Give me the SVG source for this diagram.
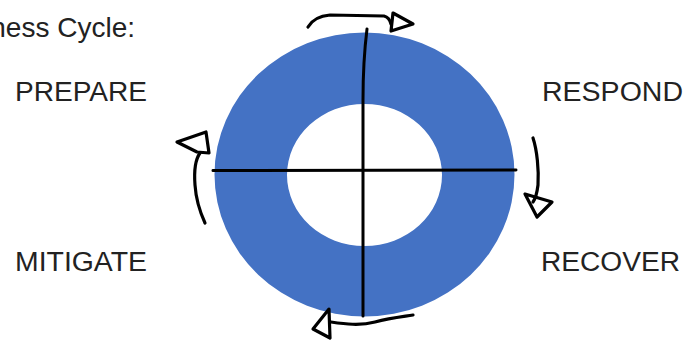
<svg xmlns="http://www.w3.org/2000/svg" width="687" height="343" viewBox="0 0 687 343">
  <style>
    .lbl { font-family: "Liberation Sans", Arial, sans-serif; font-size: 27px; fill: #222; }
    .ttl { font-family: "Liberation Sans", Arial, sans-serif; font-size: 28px; fill: #222; }
    .ink { fill: none; stroke: #000; stroke-width: 3.2; stroke-linecap: round; stroke-linejoin: round; }
    .axis { fill: none; stroke: #000; stroke-width: 3; stroke-linecap: round; }
  </style>
  <rect width="687" height="343" fill="#fff"/>
  <g id="title">
    <text class="ttl" x="135" y="37" text-anchor="end">ness Cycle:</text>
  </g>
  <g id="ring">
    <path fill="#4472C4" fill-rule="evenodd" d="M214.5,174.5 A150,142 0 1 0 514.5,174.5 A150,142 0 1 0 214.5,174.5 Z M287,175 A77.5,71 0 1 0 442,175 A77.5,71 0 1 0 287,175 Z"/>
    <path class="axis" d="M213,170.5 L516,170"/>
    <path class="axis" d="M367,29 C365,45 363,70 363,100 L363,316"/>
  </g>
  <g id="prepare">
    <text class="lbl" x="15" y="101" textLength="132" lengthAdjust="spacingAndGlyphs">PREPARE</text>
  </g>
  <g id="respond">
    <text class="lbl" x="542" y="101" textLength="141" lengthAdjust="spacingAndGlyphs">RESPOND</text>
  </g>
  <g id="mitigate">
    <text class="lbl" x="15" y="271" textLength="132" lengthAdjust="spacingAndGlyphs">MITIGATE</text>
  </g>
  <g id="recover">
    <text class="lbl" x="541" y="271" textLength="139" lengthAdjust="spacingAndGlyphs">RECOVER</text>
  </g>
  <g id="connectors">
    <path class="ink" d="M308,27 C312,20 318,16 330,15 L384,16 C388,17 390,20 391,24"/>
    <path class="ink" d="M393,13 L413,24 L391,31 Z"/>
    <path class="ink" d="M533,138 C537,150 539,170 538,185 C537,193 536,198 533,202"/>
    <path class="ink" d="M525,194 L552,202 L537,217 Z"/>
    <path class="ink" d="M413,315 C400,317 390,318 375,322 C360,326 345,324 331,322"/>
    <path class="ink" d="M329,309 L313,329 L330,338 Z"/>
    <path class="ink" d="M205,223 C200,212 196,200 195,185 C194,172 195,160 200,153"/>
    <path class="ink" d="M177,142 L206,132 L209,153 L197,152 Z"/>
  </g>
</svg>
